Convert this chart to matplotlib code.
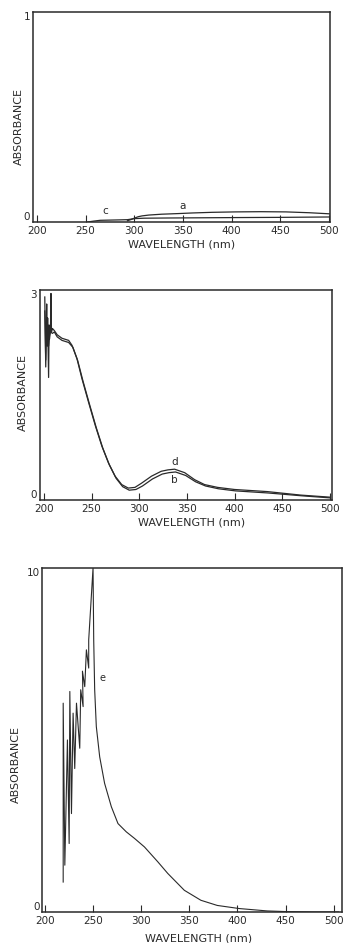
import matplotlib
matplotlib.use("Agg")
import matplotlib.pyplot as plt

plt.rcParams['font.family'] = ['DejaVu Sans']

# Panel 1 (curves a and c)
a_wl = [293, 297, 300, 304, 308, 315, 328, 345, 360, 380, 404, 430, 456, 480, 500, 505]
a_abs = [0.006, 0.012, 0.018, 0.025, 0.029, 0.033, 0.037, 0.040, 0.043, 0.046, 0.048, 0.049, 0.048, 0.044, 0.039, 0.037]
c_wl = [252, 258, 265, 275, 285, 293, 300, 310, 335, 370, 404, 450, 505]
c_abs = [0.0, 0.004, 0.008, 0.009, 0.010, 0.011, 0.016, 0.018, 0.019, 0.020, 0.021, 0.022, 0.024]

# Panel 2 (curves b and d)
d_wl = [201, 202, 203, 203.5, 204, 205, 205.5, 206, 207, 207.5, 208, 209, 211, 214, 219, 226, 229.5,
        234.7, 240, 247, 254, 260.8, 267.7, 274.7, 281.6, 288.5, 295.5, 302.4, 312.8, 323, 330, 337,
        347.6, 358, 368.4, 382, 399.7, 434, 469, 500]
d_abs = [2.9, 1.9, 2.8, 2.2, 2.6, 1.75, 2.5, 2.3, 2.45, 2.95, 2.4, 2.45, 2.42, 2.36, 2.31, 2.28, 2.21,
         2.02, 1.73, 1.39, 1.06, 0.77, 0.53, 0.34, 0.22, 0.17, 0.18, 0.24, 0.34, 0.41, 0.43, 0.44,
         0.39, 0.29, 0.22, 0.18, 0.15, 0.12, 0.07, 0.04]
b_wl = [201, 202, 203, 204, 205, 206, 207, 209, 211, 214, 219, 226, 230.5,
        235.5, 241, 248, 255, 261.8, 268.7, 275.7, 282.6, 289.5, 296.5, 303.4, 313.8, 324, 331, 338,
        348.6, 359, 369.4, 383, 400.7, 435, 470, 500]
b_abs = [2.7, 2.0, 2.6, 2.3, 2.2, 2.35, 2.4, 2.38, 2.4, 2.33, 2.28, 2.25, 2.18,
         1.99, 1.70, 1.36, 1.03, 0.74, 0.50, 0.31, 0.19, 0.14, 0.15, 0.20, 0.30, 0.37, 0.39, 0.40,
         0.35, 0.26, 0.20, 0.16, 0.13, 0.10, 0.06, 0.03]

# Panel 3 (curve e)
e_wl = [219.0, 219.0, 220.7, 223.4, 225.2, 225.9, 227.6, 229.3, 231.0, 232.8, 236.2, 237.2,
        239.7, 239.0, 241.4, 243.1, 245.5, 245.5, 250.0, 250.7, 251.7, 253.4, 256.9, 262.0,
        269.0, 275.9, 284.5, 293.0, 303.4, 317.2, 327.6, 344.8, 362.0, 379.0, 401.7, 431.0,
        451.7, 480.0, 505.0]
e_abs = [0.87, 6.07, 1.36, 5.0, 1.99, 6.41, 2.86, 5.78, 4.17, 6.07, 4.76, 6.46,
         5.97, 7.0, 6.55, 7.62, 7.09, 7.91, 10.0, 7.9, 6.46, 5.39, 4.51, 3.74,
         3.06, 2.57, 2.33, 2.14, 1.89, 1.46, 1.12, 0.63, 0.34, 0.19, 0.10, 0.03,
         0.01, 0.0, 0.0]

x_ticks = [200, 250, 300, 350, 400, 450, 500]
x_ticklabels = ['200', '250', '300', '350', '400', '450', '500']

ink = '#2a2a2a'
fs = 7.5
fig = plt.figure(figsize=(3.44, 9.43), dpi=100)

def style(ax, xlim, ymax, ylab_xy, xlab_xy):
    ax.set_xlim(*xlim)
    ax.set_ylim(0, ymax)
    ax.set_xticks(x_ticks)
    ax.set_xticklabels(x_ticklabels)
    ax.set_yticks([0, ymax])
    ax.set_yticklabels(['0', str(ymax)])
    labs = ax.get_yticklabels()
    labs[0].set_verticalalignment('bottom')
    labs[1].set_verticalalignment('top')
    ax.tick_params(axis='x', direction='in', length=5, width=0.8, pad=3,
                   labelsize=fs, colors=ink)
    ax.tick_params(axis='y', length=0, pad=2, labelsize=fs, colors=ink)
    for s in ax.spines.values():
        s.set_linewidth(1.1)
        s.set_color(ink)
    ax.set_ylabel('ABSORBANCE', fontsize=8, color=ink, va='center')
    ax.yaxis.set_label_coords(*ylab_xy)
    ax.set_xlabel('WAVELENGTH (nm)', fontsize=8, color=ink, va='center')
    ax.xaxis.set_label_coords(*xlab_xy)

ax1 = fig.add_axes([0.096, 0.7646, 0.863, 0.2227])
ax1.plot(a_wl, a_abs, color=ink, lw=0.9)
ax1.plot(c_wl, c_abs, color=ink, lw=0.9)
ax1.text(350, 0.062, 'a', fontsize=fs, color=ink, ha='center')
ax1.text(270, 0.04, 'c', fontsize=fs, color=ink, ha='center')
style(ax1, (196, 501), 1, (-0.049, 0.457), (0.502, -0.105))

ax2 = fig.add_axes([0.1163, 0.4698, 0.849, 0.2227])
ax2.plot(d_wl, d_abs, color=ink, lw=0.9)
ax2.plot(b_wl, b_abs, color=ink, lw=0.9)
ax2.text(337, 0.5, 'd', fontsize=fs, color=ink, ha='center')
ax2.text(337, 0.24, 'b', fontsize=fs, color=ink, ha='center')
style(ax2, (196, 502), 3, (-0.06, 0.514), (0.52, -0.105))

ax3 = fig.add_axes([0.1235, 0.0329, 0.872, 0.3648])
ax3.plot(e_wl, e_abs, color=ink, lw=0.8)
ax3.text(257, 6.7, 'e', fontsize=7, color=ink, ha='left')
style(ax3, (197.5, 509), 10, (-0.088, 0.43), (0.52, -0.078))

fig.savefig('out.png', dpi=100)
